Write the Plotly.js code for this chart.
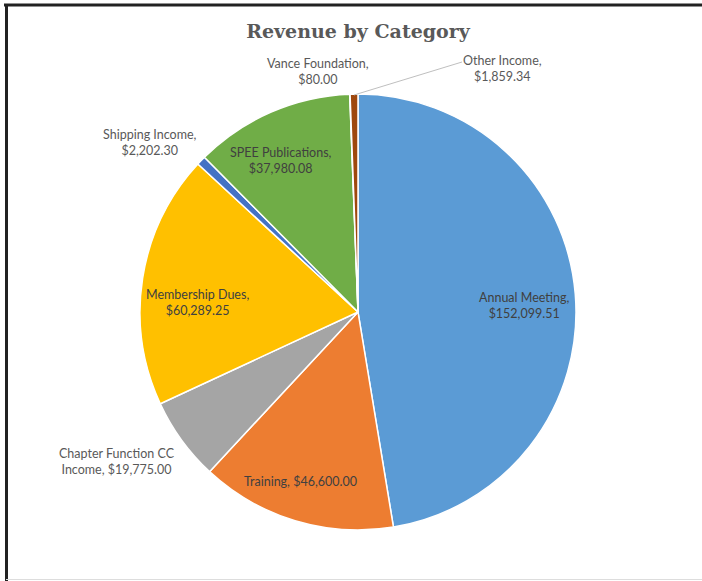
<!DOCTYPE html>
<html>
<head>
<meta charset="utf-8">
<script src="https://cdn.plot.ly/plotly-3.0.1.min.js"></script>
<style>html,body{margin:0;padding:0;background:#fff;}#chart{width:702px;height:581px;}</style>
</head>
<body>
<div id="chart"></div>
<script>
// Data
var categories = ["Annual Meeting", "Training", "Chapter Function CC Income", "Membership Dues",
                  "Shipping Income", "SPEE Publications", "Vance Foundation", "Other Income"];
var revenue = [152099.51, 46600.00, 19775.00, 60289.25, 2202.30, 37980.08, 80.00, 1859.34];
var sliceColors = ["#5B9BD5", "#ED7D31", "#A5A5A5", "#FFC000", "#4472C4", "#70AD47", "#264478", "#9E480E"];
// label line breaks (display text)
var labelText = [
  "Annual Meeting,<br>$152,099.51",
  "Training, $46,600.00",
  "Chapter Function CC<br>Income, $19,775.00",
  "Membership Dues,<br>$60,289.25",
  "Shipping Income,<br>$2,202.30",
  "SPEE Publications,<br>$37,980.08",
  "Vance Foundation,<br>$80.00",
  "Other Income,<br>$1,859.34"
];

var W = 702, H = 581;
function px(x) { return x / W; }
function py(y) { return 1 - y / H; }

// label layout (pixel positions), inside flag
var labelPos = [
  {x: 524, y: 305, inside: true},
  {x: 300, y: 481, inside: true},
  {x: 117, y: 461, inside: false},
  {x: 197, y: 302, inside: true},
  {x: 150, y: 142, inside: false},
  {x: 281, y: 160, inside: true},
  {x: 318, y: 71,  inside: false},
  {x: 502, y: 69,  inside: false}
];

var annotations = labelText.map(function (t, i) {
  return {
    text: t, x: px(labelPos[i].x), y: py(labelPos[i].y), xref: 'paper', yref: 'paper',
    xanchor: 'center', yanchor: 'middle', showarrow: false, align: 'center',
    font: {family: 'Lato, "Open Sans", sans-serif', size: 12.5, color: labelPos[i].inside ? '#404040' : '#595959'}
  };
});

var trace = {
  type: 'pie',
  labels: categories,
  values: revenue,
  sort: false,
  direction: 'clockwise',
  rotation: 0,
  textinfo: 'none',
  hoverinfo: 'label+value',
  marker: {colors: sliceColors, line: {color: '#ffffff', width: 1.5}},
  domain: {x: [px(358 - 218), px(358 + 218)], y: [py(312 + 218), py(312 - 218)]}
};

var layout = {
  width: W, height: H,
  margin: {l: 0, r: 0, t: 0, b: 0},
  paper_bgcolor: '#ffffff',
  showlegend: false,
  title: {
    text: '<b>Revenue by Category</b>',
    x: px(358), xanchor: 'center', y: py(31), yanchor: 'middle',
    font: {family: '"DejaVu Serif", serif', size: 19, color: '#595959'}
  },
  annotations: annotations,
  shapes: [
    {type: 'line', xref: 'paper', yref: 'paper', x0: px(4), x1: 1, y0: py(5), y1: py(5), line: {color: '#222222', width: 3}},
    {type: 'line', xref: 'paper', yref: 'paper', x0: px(6.5), x1: px(6.5), y0: py(4), y1: 0, line: {color: '#222222', width: 3}},
    {type: 'line', xref: 'paper', yref: 'paper', x0: px(6), x1: 1, y0: py(579.5), y1: py(579.5), line: {color: '#dddddd', width: 1}},
    // leader line for Other Income
    {type: 'line', xref: 'paper', yref: 'paper', x0: px(354), y0: py(95), x1: px(462), y1: py(62), line: {color: '#bfbfbf', width: 1}}
  ]
};

Plotly.newPlot('chart', [trace], layout, {displayModeBar: false, staticPlot: true});
</script>
</body>
</html>
